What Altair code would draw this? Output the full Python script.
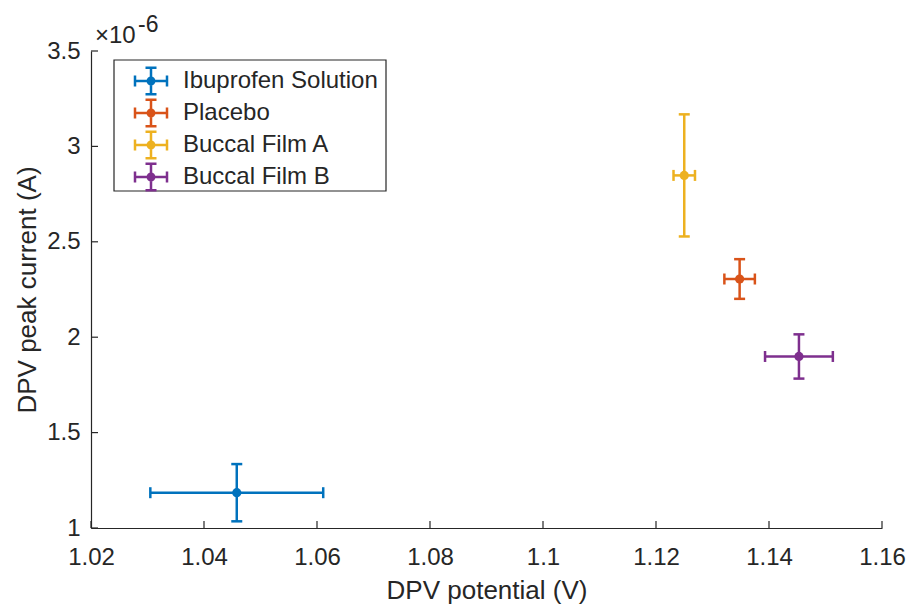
import altair as alt
import pandas as pd

# ---- data ----
labels = ["Ibuprofen Solution", "Placebo", "Buccal Film A", "Buccal Film B"]
colors = ["#0072BD", "#D95319", "#EDB120", "#7E2F8E"]
potential = [1.0458, 1.1348, 1.1250, 1.1453]          # V
potential_err = [0.0153, 0.0027, 0.0019, 0.0060]      # V
current = [1.185, 2.305, 2.848, 1.899]                # x 1e-6 A
current_err = [0.150, 0.104, 0.320, 0.116]            # x 1e-6 A
x_ticks = [1.02, 1.04, 1.06, 1.08, 1.10, 1.12, 1.14, 1.16]
y_ticks = [1.0, 1.5, 2.0, 2.5, 3.0, 3.5]
exponent_base = ["×10"]
exponent_power = ["-6"]

W, H = 791, 477
FONT = "Liberation Sans"
INK = "#262626"
LW = 2.5

df = pd.DataFrame({
    "label": labels,
    "x": potential,
    "y": current,
})
df["xlo"] = [a - b for a, b in zip(potential, potential_err)]
df["xhi"] = [a + b for a, b in zip(potential, potential_err)]
df["ylo"] = [a - b for a, b in zip(current, current_err)]
df["yhi"] = [a + b for a, b in zip(current, current_err)]

xscale = alt.Scale(domain=[1.02, 1.16], nice=False, zero=False)
yscale = alt.Scale(domain=[1.0, 3.5], nice=False, zero=False)
cscale = alt.Scale(domain=labels, range=colors)

xaxis = alt.Axis(values=x_ticks, format=".2~f", ticks=False, grid=False,
                 labelFlush=False, labelOverlap=False, labelPadding=17,
                 title="DPV potential (V)", titlePadding=8)
yaxis = alt.Axis(values=y_ticks, format=".1~f", ticks=False, grid=False,
                 labelFlush=False, labelOverlap=False, labelPadding=11,
                 title="DPV peak current (A)", titlePadding=6)

# custom legend symbol: error-bar cross with dot, shifted to the right
def circ(cx, cy, rr):
    return f"M{cx-rr},{cy}A{rr},{rr} 0 1,0 {cx+rr},{cy}A{rr},{rr} 0 1,0 {cx-rr},{cy}Z"

cx = 2.1
hw, hh, ch = 1.6, 1.33, 0.55
sym = (f"M{cx-hw},0H{cx+hw}"
       f"M{cx-hw},{-ch}V{ch}M{cx+hw},{-ch}V{ch}"
       f"M{cx},{-hh}V{hh}"
       f"M{cx-ch},{-hh}H{cx+ch}M{cx-ch},{hh}H{cx+ch}"
       + circ(cx, 0, 0.32) + circ(cx, 0, 0.16) + circ(cx, 0, 0.03))

legend = alt.Legend(orient="none", legendX=23, legendY=14, title=None,
                    symbolType=sym, symbolSize=400, symbolStrokeWidth=LW,
                    labelFont=FONT, labelFontSize=24, labelColor=INK, labelLimit=400,
                    labelOffset=41, rowPadding=-6, padding=4,
                    strokeColor="transparent", fillColor="transparent")

base = alt.Chart(df)
X = lambda f: alt.X(f"{f}:Q", scale=xscale, axis=xaxis)
Y = lambda f: alt.Y(f"{f}:Q", scale=yscale, axis=yaxis)

# legend frame
frame = alt.Chart(pd.DataFrame({"k": [0]})).mark_rect(
    fill="white", stroke=INK, strokeWidth=1.2).encode(
    x=alt.value(23), x2=alt.value(295), y=alt.value(9), y2=alt.value(140))

hbar = base.mark_rule(strokeWidth=LW).encode(
    x=X("xlo"), x2="xhi:Q", y=Y("y"),
    color=alt.Color("label:N", scale=cscale, sort=labels, legend=legend),
)
vbar = base.mark_rule(strokeWidth=LW).encode(
    x=X("x"), y=Y("ylo"), y2="yhi:Q",
    color=alt.Color("label:N", scale=cscale, legend=None),
)

def cap(xf, yf, orient):
    return base.mark_tick(orient=orient, size=11, thickness=LW, opacity=1).encode(
        x=X(xf), y=Y(yf),
        color=alt.Color("label:N", scale=cscale, legend=None),
    )

caps = [cap("xlo", "y", "vertical"), cap("xhi", "y", "vertical"),
        cap("x", "ylo", "horizontal"), cap("x", "yhi", "horizontal")]

points = base.mark_point(filled=True, size=85, opacity=1, shape="circle").encode(
    x=X("x"), y=Y("y"),
    color=alt.Color("label:N", scale=cscale, legend=None),
)

# inward tick marks (MATLAB style)
xt = alt.Chart(pd.DataFrame({"v": x_ticks})).mark_rule(color=INK, strokeWidth=1.2).encode(
    x=X("v"), y=alt.value(H), y2=alt.value(H - 7))
yt = alt.Chart(pd.DataFrame({"v": y_ticks})).mark_rule(color=INK, strokeWidth=1.2).encode(
    y=Y("v"), x=alt.value(0), x2=alt.value(7))

exp1 = alt.Chart(pd.DataFrame({"t": exponent_base})).mark_text(
    font=FONT, fontSize=24, color=INK, align="left", baseline="alphabetic").encode(
    text="t:N", x=alt.value(4), y=alt.value(-8))
exp2 = alt.Chart(pd.DataFrame({"t": exponent_power})).mark_text(
    font=FONT, fontSize=23, color=INK, align="left", baseline="alphabetic").encode(
    text="t:N", x=alt.value(47), y=alt.value(-19))

chart = alt.layer(hbar, vbar, *caps, points, xt, yt, frame, exp1, exp2).properties(
    width=W, height=H,
    padding={"left": 91, "top": 51, "right": 907 - 91 - W, "bottom": 604 - 51 - H},
    autosize=alt.AutoSizeParams(type="none"),
    background="white",
).configure_view(stroke=None).configure_axis(
    domainColor=INK, domainWidth=1.2,
    labelFont=FONT, labelFontSize=24, labelColor=INK,
    titleFont=FONT, titleFontSize=26, titleFontWeight="normal", titleColor=INK,
)

chart.save("out.html", embed_options={"renderer": "svg", "actions": False})
